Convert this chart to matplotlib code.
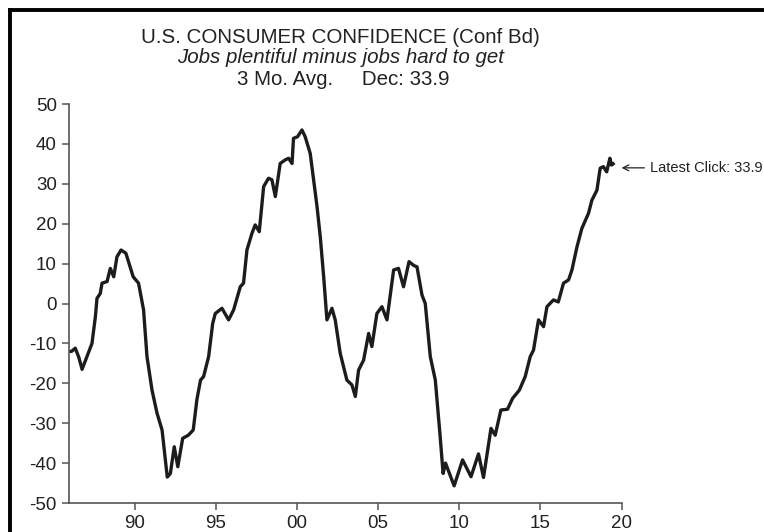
import matplotlib.pyplot as plt
from matplotlib.lines import Line2D

plt.rcParams['font.family'] = ['Liberation Sans', 'DejaVu Sans']
plt.rcParams['axes.unicode_minus'] = False

# valores (ano decimal, diferencial)
anios = [1985.93, 1986.10, 1986.33, 1986.55, 1986.75, 1987.05, 1987.36, 1987.57, 1987.67, 1987.87,
         1987.98, 1988.29, 1988.49, 1988.70, 1988.90, 1989.15, 1989.45, 1989.90, 1990.23, 1990.54,
         1990.75, 1991.06, 1991.37, 1991.68, 1991.85, 1992.00, 1992.19, 1992.43, 1992.65, 1992.95,
         1993.30, 1993.60, 1993.83, 1994.05, 1994.24, 1994.55, 1994.80, 1994.96, 1995.37, 1995.78,
         1996.09, 1996.50, 1996.70, 1996.91, 1997.22, 1997.42, 1997.67, 1997.94, 1998.24, 1998.45,
         1998.66, 1998.96, 1999.27, 1999.48, 1999.69, 1999.78, 2000.03, 2000.30, 2000.50, 2000.81,
         2001.23, 2001.43, 2001.64, 2001.84, 2002.15, 2002.35, 2002.66, 2003.07, 2003.38, 2003.59,
         2003.79, 2004.10, 2004.41, 2004.61, 2004.92, 2005.23, 2005.54, 2005.95, 2006.25, 2006.56,
         2006.90, 2007.20, 2007.39, 2007.70, 2007.90, 2008.21, 2008.52, 2008.82, 2009.00, 2009.15,
         2009.68, 2010.20, 2010.72, 2011.18, 2011.49, 2011.95, 2012.21, 2012.56, 2012.97, 2013.28,
         2013.70, 2014.06, 2014.37, 2014.57, 2014.88, 2015.19, 2015.40, 2015.80, 2016.10, 2016.42,
         2016.73, 2016.94, 2017.25, 2017.55, 2017.96, 2018.17, 2018.48, 2018.68, 2018.88, 2019.08,
         2019.28, 2019.38, 2019.48]
valores = [-12.0, -12.0, -11.2, -13.5, -16.5, -13.3, -10.0, -3.3, 1.3, 2.5,
           5.1, 5.5, 8.8, 6.7, 11.7, 13.4, 12.6, 6.7, 5.1, -1.6,
           -13.3, -21.7, -27.5, -31.7, -38.0, -43.5, -42.6, -35.9, -40.9, -33.8,
           -33.0, -31.7, -24.0, -19.2, -18.3, -13.3, -5.0, -2.5, -1.2, -4.1,
           -1.6, 4.2, 5.1, 13.4, 17.6, 19.7, 18.0, 29.3, 31.4, 31.0,
           26.8, 35.1, 36.0, 36.4, 35.1, 41.4, 41.8, 43.5, 41.8, 37.6,
           24.3, 16.7, 6.7, -4.1, -1.2, -4.1, -12.5, -19.2, -20.4, -23.3,
           -16.7, -14.2, -7.5, -10.8, -2.5, -0.8, -4.1, 8.4, 8.8, 4.2,
           10.5, 9.5, 9.2, 2.1, 0.0, -13.3, -19.2, -33.4, -42.6, -40.0,
           -45.7, -39.2, -43.4, -37.7, -43.6, -31.3, -33.0, -26.7, -26.5, -23.8,
           -21.7, -18.3, -13.3, -11.7, -4.1, -5.8, -0.8, 0.9, 0.4, 5.1,
           5.9, 8.4, 14.2, 18.8, 22.6, 25.9, 28.4, 33.9, 34.3, 33.0,
           36.4, 34.7, 35.0]

ticks_x = [1990, 1995, 2000, 2005, 2010, 2015, 2020]
etiquetas_x = ['90', '95', '00', '05', '10', '15', '20']
ticks_y = list(range(-50, 51, 10))
ultimo = 33.9

fig = plt.figure(figsize=(7.64, 5.32), dpi=100)
ax = fig.add_axes([0.0898, 0.0545, 0.7238, 0.75])

ax.plot(anios, valores, color='#1c1c1c', lw=2.4, solid_joinstyle='round')

ax.set_xlim(1985.92, 2020)
ax.set_ylim(-50, 50)
ax.set_xticks(ticks_x)
ax.set_xticklabels(etiquetas_x)
ax.set_yticks(ticks_y)

for lado in ['top', 'right']:
    ax.spines[lado].set_visible(False)
for lado in ['left', 'bottom']:
    ax.spines[lado].set_color('#555555')
    ax.spines[lado].set_linewidth(1.2)
ax.tick_params(axis='both', direction='out', length=5, width=1.1, color='#555555',
               labelsize=13.5, labelcolor='#222222')

# anotacion del ultimo dato
ax.annotate('Latest Click: ' + str(ultimo), xy=(2020.0, 34.0), xytext=(2021.75, 34.0),
            fontsize=10.5, color='#222222', ha='left', va='center', annotation_clip=False,
            arrowprops=dict(arrowstyle='->', color='#222222', lw=0.9, shrinkA=2, shrinkB=0))

# titulos
fig.text(0.446, 0.930, 'U.S. CONSUMER CONFIDENCE (Conf Bd)', ha='center', va='center',
         fontsize=14.8, color='#222222')
fig.text(0.446, 0.891, 'Jobs plentiful minus jobs hard to get', ha='center', va='center',
         fontsize=14.8, style='italic', color='#222222')
fig.text(0.449, 0.850, '3 Mo. Avg.     Dec: ' + str(ultimo), ha='center', va='center',
         fontsize=14.8, color='#222222')

# marco exterior (borde superior e izquierdo)
fig.add_artist(Line2D([9.5 / 764, 1.0], [1 - 9.5 / 532, 1 - 9.5 / 532], color='black', lw=2.8,
                      transform=fig.transFigure))
fig.add_artist(Line2D([9.5 / 764, 9.5 / 764], [1 - 9.5 / 532, 0.0], color='black', lw=2.8,
                      transform=fig.transFigure))

fig.savefig('out.png', dpi=100)
